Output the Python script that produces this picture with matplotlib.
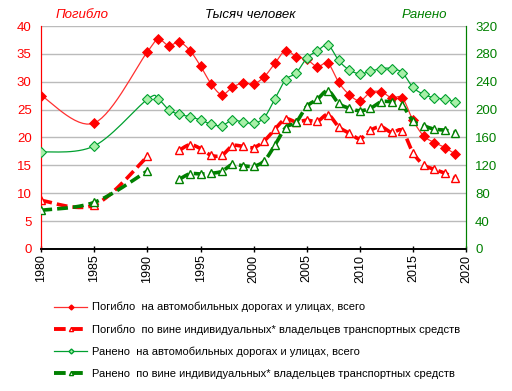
import numpy as np
import matplotlib

matplotlib.use('Agg')
import matplotlib.pyplot as plt
from matplotlib.lines import Line2D

plt.rcParams['font.family'] = ['Liberation Sans', 'DejaVu Sans']

# years on the x axis (gaps 1981-84 and 1986-89 are not in the source table)
years = [1980, 1985, 1990, 1991, 1992, 1993, 1994, 1995, 1996, 1997, 1998, 1999,
         2000, 2001, 2002, 2003, 2004, 2005, 2006, 2007, 2008, 2009, 2010, 2011,
         2012, 2013, 2014, 2015, 2016, 2017, 2018, 2019]

# thousand people
killed_total = [27.5, 22.6, 35.4, 37.6, 36.5, 37.1, 35.6, 32.8, 29.6, 27.7, 29.0, 29.8,
                29.6, 30.9, 33.3, 35.6, 34.5, 34.0, 32.7, 33.3, 29.9, 27.7, 26.6, 28.1,
                28.2, 27.1, 27.1, 23.1, 20.3, 19.1, 18.2, 17.0]
killed_indiv = [8.7, 7.9, 16.6, np.nan, np.nan, 17.7, 18.7, 18.0, 16.8, 16.8, 18.5, 18.4,
                18.2, 19.4, 21.5, 23.3, 22.8, 23.1, 22.9, 24.1, 21.9, 20.8, 19.8, 21.3,
                21.9, 20.9, 21.2, 17.3, 15.1, 14.3, 13.6, 12.7]
injured_total = [139, 148, 215, 215, 200, 193, 190, 185, 179, 177, 185, 182,
                 180.5, 188.6, 215.6, 243, 252.5, 274, 284.3, 292.7, 270.5, 257, 251.5, 255,
                 259, 259, 253, 232, 222, 217, 215, 211]
injured_indiv = [55.5, 67, 112, np.nan, np.nan, 100, 108, 107.5, 108.5, 111.5, 121.3, 119.3,
                 118.8, 126.5, 149, 174, 182, 204.5, 215, 227, 209, 202, 198.4, 202,
                 211, 211, 206, 184, 177, 172, 170.7, 167]

labels = ['Погибло  на автомобильных дорогах и улицах, всего',
          'Погибло  по вине индивидуальных* владельцев транспортных средств',
          'Ранено  на автомобильных дорогах и улицах, всего',
          'Ранено  по вине индивидуальных* владельцев транспортных средств']

RED = '#ff0000'
GREEN = '#008000'
LGREEN = '#00a030'


def smooth(xs, ys, n=16):
    # excel-style smoothed line: catmull-rom through the points, split at gaps
    xs = np.asarray(xs, float)
    ys = np.asarray(ys, float)
    out_x, out_y = [], []
    ok = ~np.isnan(ys)
    idx = np.where(ok)[0]
    runs = np.split(idx, np.where(np.diff(idx) != 1)[0] + 1)
    for r in runs:
        px, py = xs[r], ys[r]
        m = len(px)
        for i in range(m - 1):
            p0 = max(i - 1, 0)
            p3 = min(i + 2, m - 1)
            t = np.linspace(0, 1, n)
            c1x = px[i] + (px[i + 1] - px[p0]) / 6
            c1y = py[i] + (py[i + 1] - py[p0]) / 6
            c2x = px[i + 1] - (px[p3] - px[i]) / 6
            c2y = py[i + 1] - (py[p3] - py[i]) / 6
            bx = ((1 - t) ** 3 * px[i] + 3 * (1 - t) ** 2 * t * c1x
                  + 3 * (1 - t) * t ** 2 * c2x + t ** 3 * px[i + 1])
            by = ((1 - t) ** 3 * py[i] + 3 * (1 - t) ** 2 * t * c1y
                  + 3 * (1 - t) * t ** 2 * c2y + t ** 3 * py[i + 1])
            out_x.extend(bx)
            out_y.extend(by)
        out_x.append(np.nan)
        out_y.append(np.nan)
    return out_x, out_y


fig = plt.figure(figsize=(5.12, 3.91), dpi=100)
ax = fig.add_axes([0.0807, 0.3632, 0.8295, 0.5703])
ax2 = ax.twinx()

dash = (0, (3, 1.4))

# left axis: killed
sx, sy = smooth(years, killed_indiv)
ax.plot(sx, sy, color=RED, lw=2.6, linestyle=dash, zorder=3)
ax.plot(years, killed_indiv, linestyle='none', marker='^', ms=5.5, mfc='white',
        mec=RED, mew=1.0, zorder=4)
sx, sy = smooth(years, killed_total)
ax.plot(sx, sy, color='#ff3030', lw=0.9, zorder=5)
ax.plot(years, killed_total, linestyle='none', marker='D', ms=5.2, mfc=RED,
        mec=RED, mew=0.6, zorder=6)

# right axis: injured
sx, sy = smooth(years, injured_indiv)
ax2.plot(sx, sy, color=GREEN, lw=2.6, linestyle=dash, zorder=3)
ax2.plot(years, injured_indiv, linestyle='none', marker='^', ms=5.5, mfc='white',
         mec=GREEN, mew=1.0, zorder=4)
sx, sy = smooth(years, injured_total)
ax2.plot(sx, sy, color=LGREEN, lw=0.9, zorder=5)
ax2.plot(years, injured_total, linestyle='none', marker='D', ms=4.6, mfc='#a8f0a8',
         mec=LGREEN, mew=0.8, zorder=6)

ax.set_xlim(1980, 2020)
ax.set_ylim(0, 40)
ax2.set_ylim(0, 320)
ax.set_xticks(range(1980, 2021, 5))
ax.set_yticks(range(0, 41, 5))
ax2.set_yticks(range(0, 321, 40))
ax.tick_params(axis='x', labelrotation=90, labelsize=9, length=4, direction='inout',
               width=1, pad=2)
ax.tick_params(axis='y', colors=RED, labelsize=9.5, length=0, pad=7)
ax2.tick_params(axis='y', colors=GREEN, labelsize=9.5, length=0, pad=6.5)
ax.grid(axis='y', color='#bbbbbb', lw=1)
ax.set_axisbelow(True)

for a in (ax, ax2):
    a.spines['top'].set_visible(False)
    a.spines['left'].set_color(RED)
    a.spines['right'].set_color(GREEN)
    a.spines['bottom'].set_color('black')
    a.spines['bottom'].set_linewidth(1.2)

fig.text(82 / 512, 1 - 15 / 391, 'Погибло', color=RED, style='italic', fontsize=9.5,
         ha='center', va='center')
fig.text(250 / 512, 1 - 15 / 391, 'Тысяч человек', color='black', style='italic',
         fontsize=9.5, ha='center', va='center')
fig.text(424 / 512, 1 - 15 / 391, 'Ранено', color=GREEN, style='italic', fontsize=9.5,
         ha='center', va='center')

handles = [
    Line2D([], [], color='#ff3030', lw=0.9, marker='D', ms=2.5, mfc=RED, mec=RED),
    Line2D([], [], color=RED, lw=2.8, linestyle=dash, marker='^', ms=3, mfc='white', mec=RED),
    Line2D([], [], color=LGREEN, lw=0.9, marker='D', ms=2.5, mfc='#a8f0a8', mec=LGREEN),
    Line2D([], [], color=GREEN, lw=2.8, linestyle=dash, marker='^', ms=3, mfc='white', mec=GREEN),
]
fig.legend(handles, labels, loc='upper left', bbox_to_anchor=(54 / 512, 1 - 302 / 391),
           frameon=False, fontsize=8.0, handlelength=3.0, handletextpad=0.45,
           labelspacing=1.08, borderaxespad=0, borderpad=0)

fig.savefig('out.png', dpi=100)
